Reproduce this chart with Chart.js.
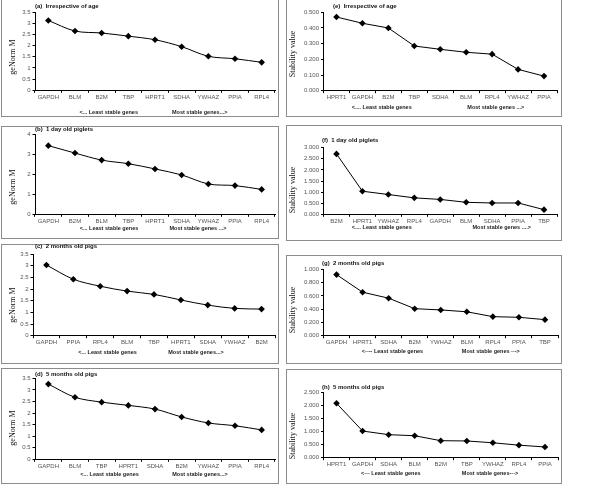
<!DOCTYPE html>
<html><head><meta charset="utf-8">
<script src="https://cdn.jsdelivr.net/npm/chart.js@4/dist/chart.umd.min.js"></script>
<style>
html,body{margin:0;padding:0;background:#fff;width:600px;height:486px;overflow:hidden;position:relative}
.box{position:absolute;border:1px solid #8c8c8c;box-sizing:border-box}
canvas{position:absolute}
</style></head><body>
<script>
// ---- data ----
const catsA = ['GAPDH','BLM','B2M','TBP','HPRT1','SDHA','YWHAZ','PPIA','RPL4'];
const valsA = [3.12, 2.65, 2.56, 2.42, 2.26, 1.95, 1.52, 1.41, 1.25];
const catsB = ['GAPDH','B2M','BLM','TBP','HPRT1','SDHA','YWHAZ','PPIA','RPL4'];
const valsB = [3.42, 3.05, 2.70, 2.52, 2.26, 1.96, 1.51, 1.43, 1.24];
const catsC = ['GAPDH','PPIA','RPL4','BLM','TBP','HPRT1','SDHA','YWHAZ','B2M'];
const valsC = [3.03, 2.42, 2.12, 1.91, 1.77, 1.53, 1.31, 1.17, 1.14];
const catsD = ['GAPDH','BLM','TBP','HPRT1','SDHA','B2M','YWHAZ','PPIA','RPL4'];
const valsD = [3.25, 2.68, 2.47, 2.33, 2.17, 1.83, 1.57, 1.45, 1.27];
const catsE = ['HPRT1','GAPDH','B2M','TBP','SDHA','BLM','RPL4','YWHAZ','PPIA'];
const valsE = [0.470, 0.430, 0.400, 0.285, 0.264, 0.245, 0.233, 0.136, 0.093];
const catsF = ['B2M','HPRT1','YWHAZ','RPL4','GAPDH','BLM','SDHA','PPIA','TBP'];
const valsF = [2.72, 1.04, 0.89, 0.74, 0.67, 0.54, 0.51, 0.51, 0.21];
const catsG = ['GAPDH','HPRT1','SDHA','B2M','YWHAZ','BLM','RPL4','PPIA','TBP'];
const valsG = [0.920, 0.655, 0.565, 0.407, 0.388, 0.360, 0.287, 0.277, 0.242];
const catsH = ['HPRT1','GAPDH','SDHA','BLM','B2M','TBP','YWHAZ','RPL4','PPIA'];
const valsH = [2.08, 1.02, 0.88, 0.84, 0.65, 0.64, 0.57, 0.48, 0.41];

const titles = ['(a)  Irrespective of age','(b)  1 day old piglets','(c)  2 months old pigs','(d)  5 months old pigs',
                '(e)  Irrespective of age','(f)  1 day old piglets','(g)  2 months old pigs','(h)  5 months old pigs'];
const yAxisTitles = ['geNorm M','Stability value'];
const yMaxes = [3.5, 4, 3.5, 3.5, 0.5, 3, 1, 2.5];
const ySteps = [0.5, 0.5, 0.5, 0.5, 0.05, 0.5, 0.1, 0.5];
const leftNotes = ['<... Least stable genes','<... Least stable genes','<... Least stable genes','<... Least stable genes',
                   '<.... Least stable genes','<.... Least stable genes','<---- Least stable genes','<--- Least stable genes'];
const rightNotes = ['Most stable genes...>','Most stable genes ...>','Most stable genes...>','Most stable genes...>',
                    'Most stable genes ...>','Most stable genes ....>','Most stable genes --->','Most stable genes--->'];

// ---- layout (page pixels) ----
const layoutCfg = [
 {box:[1,-1,278,118], plot:[35,12,275,90.3],     t:[35,6],     yl:[13,57],  by:112,   lx:108.7, rx:199.7, ten:0.33, dec:null, yt:0},
 {box:[1,126,278,113],plot:[35,134,275,214.3],   t:[35,129.5], yl:[13,187], by:228,   lx:109,   rx:198,   ten:0.33, dec:null, yt:0},
 {box:[1,244,278,120],plot:[33,254,275,335.7],   t:[35,246.5], yl:[13,305], by:352,   lx:107.5, rx:196,   ten:0.33, dec:null, yt:0},
 {box:[1,368,278,116],plot:[35,378.3,275,459.3], t:[35,374.5], yl:[13,428], by:474,   lx:109.5, rx:200,   ten:0.33, dec:null, yt:0},
 {box:[286,-1,276,118],plot:[323.5,12.3,557,90.7],   t:[333,6],   yl:[293,54],  by:107.5, lx:381.7, rx:495.8, ten:0, dec:3, yt:1},
 {box:[286,125,276,116],plot:[323.5,147.7,557,214.3],t:[322,140], yl:[293,190], by:227.3, lx:381.7, rx:501.7, ten:0, dec:3, yt:1},
 {box:[286,255,276,109],plot:[323.5,269.3,558,335.7],t:[322,263], yl:[293,310], by:351.7, lx:392.5, rx:490.8, ten:0, dec:3, yt:1},
 {box:[286,369,276,115],plot:[323.5,392.3,558,457.7],t:[322,387], yl:[293,436], by:473.3, lx:390.8, rx:490,   ten:0, dec:3, yt:1}
];
const allCats = [catsA,catsB,catsC,catsD,catsE,catsF,catsG,catsH];
const allVals = [valsA,valsB,valsC,valsD,valsE,valsF,valsG,valsH];

const panelText = {
  id:'panelText',
  afterDraw(chart, args, o){
    const ctx = chart.ctx;
    ctx.save();
    ctx.fillStyle = '#111';
    ctx.textBaseline = 'middle';
    ctx.font = 'bold 6px "Liberation Sans", Arial, sans-serif';
    ctx.textAlign = 'left';
    ctx.fillText(o.title, o.tx, o.ty);
    ctx.font = 'bold 5.5px "Liberation Sans", Arial, sans-serif';
    ctx.textAlign = 'center';
    ctx.fillStyle = '#222';
    ctx.fillText(o.left, o.lx, o.by);
    ctx.fillText(o.right, o.rx, o.by);
    ctx.fillStyle = '#111';
    ctx.translate(o.yx, o.yy);
    ctx.rotate(-Math.PI/2);
    ctx.font = '8px "Liberation Serif", "Times New Roman", serif';
    ctx.fillText(o.yLabel, 0, 0);
    ctx.restore();
  }
};

const yW = 20, xH = 12;
layoutCfg.forEach((c, i) => {
  const [L,T,W,H] = c.box;
  const bx = document.createElement('div');
  bx.className = 'box';
  Object.assign(bx.style, {left:L+'px', top:T+'px', width:W+'px', height:H+'px'});
  document.body.appendChild(bx);
  const cv = document.createElement('canvas');
  cv.width = W; cv.height = H;
  Object.assign(cv.style, {left:L+'px', top:T+'px', width:W+'px', height:H+'px'});
  document.body.appendChild(cv);
  const [pl,pt,pr,pb] = c.plot;
  const dec = c.dec;
  new Chart(cv, {
    type:'line',
    data:{labels: allCats[i], datasets:[{data: allVals[i], borderColor:'#000', borderWidth:1,
      backgroundColor:'#000', pointBackgroundColor:'#000', pointBorderColor:'#000', pointStyle:'rectRot',
      pointRadius:3.3, pointBorderWidth:0, tension:c.ten, fill:false, clip:false}]},
    options:{
      responsive:false, animation:false, devicePixelRatio:1,
      layout:{padding:{left:pl-L-yW, top:pt-T, right:L+W-pr, bottom:T+H-pb-xH}},
      plugins:{legend:{display:false}, tooltip:{enabled:false}, title:{display:false},
        panelText:{title:titles[i], tx:c.t[0]-L, ty:c.t[1]-T, yLabel:yAxisTitles[c.yt], yx:c.yl[0]-L, yy:c.yl[1]-T,
          left:leftNotes[i], right:rightNotes[i], lx:c.lx-L, rx:c.rx-L, by:c.by-T}},
      scales:{
        x:{type:'category', offset:true,
          grid:{display:true, offset:true, drawOnChartArea:false, drawTicks:true, tickLength:2.5, color:'#000', lineWidth:1},
          border:{display:true, color:'#000', width:1},
          ticks:{font:{family:'"Liberation Sans", Arial, sans-serif', size:6}, color:'#555', padding:1, maxRotation:0, autoSkip:false},
          afterFit:s => { s.height = xH; }},
        y:{min:0, max:yMaxes[i],
          ticks:{stepSize:ySteps[i], font:{family:'"Liberation Sans", Arial, sans-serif', size:6}, color:'#555', padding:2,
            callback: v => dec ? Number(v).toFixed(dec) : String(Math.round(v*100)/100)},
          grid:{display:true, drawOnChartArea:false, drawTicks:true, tickLength:2.5, color:'#000'},
          border:{display:true, color:'#000', width:1},
          afterFit:s => { s.width = yW; }}
      }
    },
    plugins:[panelText]
  });
});
</script>
</body></html>
